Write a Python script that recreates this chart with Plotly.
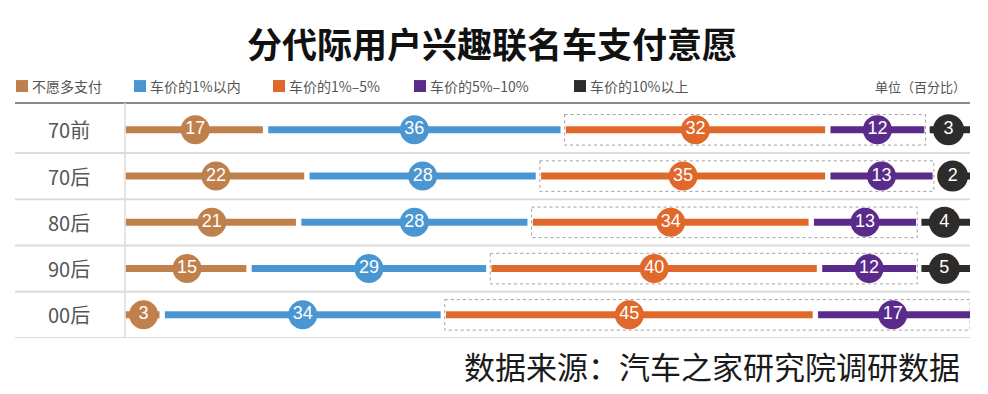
import plotly.graph_objects as go

# ---------------- data ----------------
categories = ["70前", "70后", "80后", "90后", "00后"]
series_names = ["不愿多支付", "车价的1%以内", "车价的1%–5%", "车价的5%–10%", "车价的10%以上"]
no_more = [17, 22, 21, 15, 3]
within_1 = [36, 28, 28, 29, 34]
pct_1_5 = [32, 35, 34, 40, 45]
pct_5_10 = [12, 13, 13, 12, 17]
above_10 = [3, 2, 4, 5, None]

title_text = "分代际用户兴趣联名车支付意愿"
unit_text = "单位（百分比）"
source_text = "数据来源：汽车之家研究院调研数据"

# ---------------- style ----------------
colors = ["#C0804C", "#4A96D2", "#E0682A", "#5B2B8B", "#2E2B2B"]
OFF = 8                      # page body margin
W, H = 988 - OFF, 394 - OFF  # figure size
PL, PR, PT, PB = 125, 970, 103, 338.5   # plot-area edges in window pixels
ML, MR, MT, MB = PL - OFF, (W + OFF) - PR, PT - OFF, (H + OFF) - PB
XMAX = 102.2      # axis extent (data units)
MINW = 4.5        # minimum display width for tiny shares
GAP = 0.65        # gap between segments (data units)
YTOP, YBOT = -0.58, 4.5

series = [no_more, within_1, pct_1_5, pct_5_10, above_10]

pw = PR - PL
ph = PB - PT


def px_to_paper_x(px):
    return (px - PL) / pw


def px_to_paper_y(py):
    return (PB - py) / ph


# compute segment geometry per row
rows = []
for r in range(len(categories)):
    vals = [s[r] for s in series]
    present = [(i, v) for i, v in enumerate(vals) if v is not None]
    segs = {}
    pos = 0.0
    for k, (i, v) in enumerate(present):
        w = max(v, MINW)
        s = pos
        e = pos + w
        if k == len(present) - 1:
            e = XMAX
        segs[i] = (s, e)
        pos = e
    rows.append(segs)

fig = go.Figure()
shapes = []
annotations = []

# dashed boxes around 1%-5% and 5%-10%
for r, segs in enumerate(rows):
    s2, _ = segs[2]
    _, e3 = segs[3]
    x0 = s2 + GAP / 2 - 0.15
    x1 = e3 - (GAP / 2 if e3 < XMAX else 0) + 0.15
    x1 = min(x1, XMAX)
    shapes.append(dict(type="rect", xref="x", yref="y", x0=x0, x1=x1,
                       y0=r - 0.33, y1=r + 0.33,
                       line=dict(color="#A0A0A0", width=1, dash="dot"),
                       fillcolor="rgba(0,0,0,0)", layer="below"))

# lines per series
for i, name in enumerate(series_names):
    xs, ys = [], []
    mx, my, mt = [], [], []
    for r, segs in enumerate(rows):
        if i not in segs:
            continue
        s, e = segs[i]
        xs0 = s + (GAP / 2 if s > 0 else 0.1)
        xe0 = e - (GAP / 2 if e < XMAX else 0)
        xs += [xs0, xe0, None]
        ys += [r, r, None]
        mx.append((s + e) / 2)
        my.append(r)
        mt.append(str(series[i][r]))
    fig.add_trace(go.Scatter(x=xs, y=ys, mode="lines",
                             line=dict(color=colors[i], width=7),
                             hoverinfo="skip", showlegend=False))
    fig.add_trace(go.Scatter(x=mx, y=my, mode="markers+text", text=mt,
                             textposition="middle center",
                             textfont=dict(color="white", size=18,
                                           family="Liberation Sans Narrow, Arial Narrow, Liberation Sans, Arial"),
                             marker=dict(color=colors[i], size=29 if i < 4 else 31,
                                         line=dict(width=0)),
                             name=name, showlegend=False,
                             hovertemplate="%{text}<extra>" + name + "</extra>"))

# grid / frame lines
sep_x0 = px_to_paper_x(15)
for k in range(len(categories)):
    yv = k + 0.5
    shapes.append(dict(type="line", xref="paper", yref="y", x0=sep_x0, x1=1,
                       y0=yv, y1=yv, line=dict(color="#DCDCDC", width=2), layer="below"))
shapes.append(dict(type="line", xref="paper", yref="paper", x0=sep_x0, x1=1,
                   y0=1, y1=1, line=dict(color="#8A8A8A", width=2), layer="below"))
shapes.append(dict(type="line", xref="paper", yref="paper", x0=0, x1=0,
                   y0=0, y1=1, line=dict(color="#DCDCDC", width=1.5), layer="below"))

# row labels
for r, c in enumerate(categories):
    annotations.append(dict(x=px_to_paper_x(69), xref="paper", y=r, yref="y",
                            text=c, showarrow=False, xanchor="center", yanchor="middle",
                            font=dict(size=20, color="#555555",
                                      family="Noto Sans CJK SC, Noto Sans, sans-serif")))

# legend (custom)
leg_x = [16, 134, 273, 414, 574]
leg_y = 86
for i, name in enumerate(series_names):
    x0 = leg_x[i]
    shapes.append(dict(type="rect", xref="paper", yref="paper",
                       x0=px_to_paper_x(x0), x1=px_to_paper_x(x0 + 12),
                       y0=px_to_paper_y(leg_y + 6), y1=px_to_paper_y(leg_y - 6),
                       fillcolor=colors[i], line=dict(width=0)))
    annotations.append(dict(x=px_to_paper_x(x0 + 14), xref="paper",
                            y=px_to_paper_y(leg_y), yref="paper",
                            text=name, showarrow=False, xanchor="left", yanchor="middle",
                            font=dict(size=14, color="#555555",
                                      family="Noto Sans CJK SC, Noto Sans, sans-serif")))
annotations.append(dict(x=px_to_paper_x(968), xref="paper", y=px_to_paper_y(leg_y), yref="paper",
                        text=unit_text, showarrow=False, xanchor="right", yanchor="middle",
                        font=dict(size=13, color="#555555",
                                  family="Noto Sans CJK SC, Noto Sans, sans-serif")))

# title
annotations.append(dict(x=px_to_paper_x(492), xref="paper", y=px_to_paper_y(42), yref="paper",
                        text="<b>" + title_text + "</b>", showarrow=False,
                        xanchor="center", yanchor="middle",
                        font=dict(size=35, color="#111111",
                                  family="Noto Sans CJK SC, Noto Sans, sans-serif")))

# source
annotations.append(dict(x=px_to_paper_x(962), xref="paper", y=px_to_paper_y(366), yref="paper",
                        text=source_text, showarrow=False,
                        xanchor="right", yanchor="middle",
                        font=dict(size=31, color="#1A1A1A",
                                  family="Noto Sans CJK SC, Noto Sans, sans-serif")))

fig.update_layout(
    width=W, height=H,
    margin=dict(l=ML, r=MR, t=MT, b=MB, pad=0),
    paper_bgcolor="white", plot_bgcolor="white",
    xaxis=dict(range=[0, XMAX], visible=False, fixedrange=True),
    yaxis=dict(range=[YBOT, YTOP], visible=False, fixedrange=True),
    shapes=shapes, annotations=annotations,
    showlegend=False,
)

fig.write_html("out.html")
